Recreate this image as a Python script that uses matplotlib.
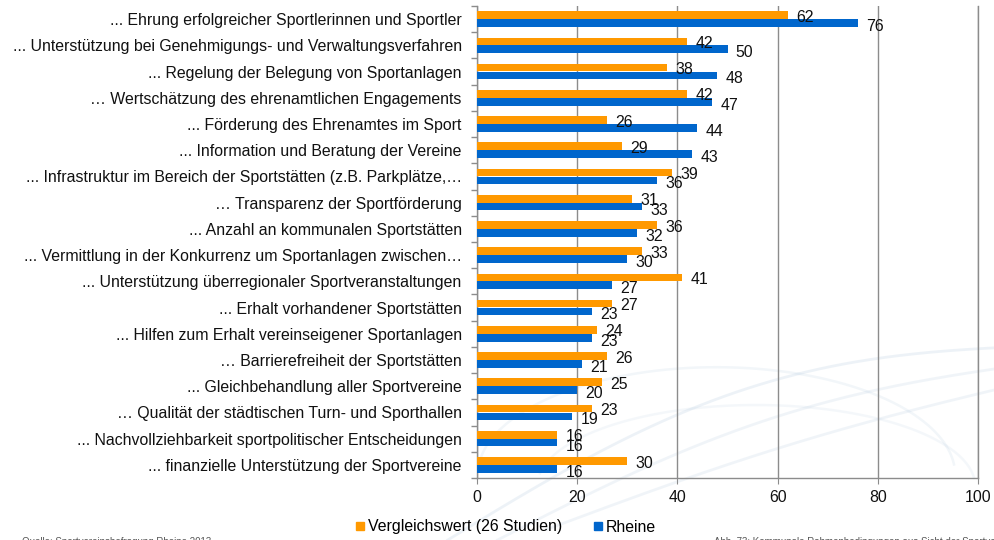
import numpy as np
import matplotlib
matplotlib.use("Agg")
import matplotlib.pyplot as plt
from matplotlib.lines import Line2D

plt.rcParams['font.family'] = ['Liberation Sans', 'DejaVu Sans']

categories = [
    "... Ehrung erfolgreicher Sportlerinnen und Sportler",
    "... Unterstützung bei Genehmigungs- und Verwaltungsverfahren",
    "... Regelung der Belegung von Sportanlagen",
    "… Wertschätzung des ehrenamtlichen Engagements",
    "... Förderung des Ehrenamtes im Sport",
    "... Information und Beratung der Vereine",
    "... Infrastruktur im Bereich der Sportstätten (z.B. Parkplätze,…",
    "… Transparenz der Sportförderung",
    "... Anzahl an kommunalen Sportstätten",
    "... Vermittlung in der Konkurrenz um Sportanlagen zwischen…",
    "... Unterstützung überregionaler Sportveranstaltungen",
    "... Erhalt vorhandener Sportstätten",
    "... Hilfen zum Erhalt vereinseigener Sportanlagen",
    "… Barrierefreiheit der Sportstätten",
    "... Gleichbehandlung aller Sportvereine",
    "… Qualität der städtischen Turn- und Sporthallen",
    "... Nachvollziehbarkeit sportpolitischer Entscheidungen",
    "... finanzielle Unterstützung der Sportvereine",
]
vergleich = [62, 42, 38, 42, 26, 29, 39, 31, 36, 33, 41, 27, 24, 26, 25, 23, 16, 30]
rheine = [76, 50, 48, 47, 44, 43, 36, 33, 32, 30, 27, 23, 23, 21, 20, 19, 16, 16]
series_names = ["Vergleichswert (26 Studien)", "Rheine"]
xticks = [0, 20, 40, 60, 80, 100]

orange = "#FF9900"
blue = "#0066CC"
grey = "#8C8C8C"
fs = 11.4

fig = plt.figure(figsize=(9.95, 5.4), dpi=100)

# faint decorative swooshes in the background (bottom right)
bg = fig.add_axes([0, 0, 1, 1], zorder=-5)
bg.set_xlim(0, 1)
bg.set_ylim(0, 1)
bg.axis("off")
t = np.linspace(0, 1, 200)
for (x0, y0, x1, y1, bend, a) in [(0.45, 0.0, 1.05, 0.36, 0.10, 0.18),
                                  (0.50, 0.0, 1.05, 0.33, 0.06, 0.15),
                                  (0.55, 0.02, 1.05, 0.30, 0.02, 0.15)]:
    xs = x0 + (x1 - x0) * t
    ys = y0 + (y1 - y0) * t + bend * np.sin(np.pi * t)
    bg.plot(xs, ys, color="#9EBBD6", lw=2.0, alpha=a)
for (cx, cy, rx, ry, a) in [(0.72, 0.12, 0.24, 0.20, 0.15), (0.76, 0.10, 0.22, 0.15, 0.12)]:
    th = np.linspace(0.1, np.pi * 0.95, 200)
    bg.plot(cx + rx * np.cos(th), cy + ry * np.sin(th), color="#A9C3DB", lw=1.8, alpha=a)

ax = fig.add_axes([477 / 995, 1 - 478 / 540, 501 / 995, 472 / 540])
ax.patch.set_alpha(0)

y = np.arange(len(categories))
h = 0.29
ax.barh(y - 0.15, vergleich, height=h, color=orange, label=series_names[0], zorder=3)
ax.barh(y + 0.15, rheine, height=h, color=blue, label=series_names[1], zorder=3)

for yi, v in zip(y - 0.15, vergleich):
    ax.annotate(str(v), (v, yi), xytext=(6, -1.5), textcoords="offset points",
                va="center", ha="left", fontsize=fs, color="#111111", zorder=5)
for yi, v in zip(y + 0.15, rheine):
    ax.annotate(str(v), (v, yi), xytext=(6, -2.5), textcoords="offset points",
                va="center", ha="left", fontsize=fs, color="#111111", zorder=5)

ax.set_xlim(0, 100)
ax.set_ylim(len(categories) - 0.5, -0.5)
ax.set_xticks(xticks)
ax.set_yticks(y)
ax.set_yticklabels(categories, fontsize=fs, color="#111111")
ax.set_yticks(np.arange(len(categories) + 1) - 0.5, minor=True)
ax.tick_params(axis="y", which="major", length=0, pad=11)
ax.tick_params(axis="y", which="minor", length=4, color=grey, width=1)
ax.tick_params(axis="x", length=4, color=grey, labelsize=fs, labelcolor="#111111", pad=5)
ax.grid(axis="x", color=grey, lw=1, zorder=0)
ax.spines["top"].set_visible(False)
for s in ["left", "bottom", "right"]:
    ax.spines[s].set_color(grey)
    ax.spines[s].set_linewidth(1)

handles = [Line2D([], [], marker="s", ls="", color=orange, markersize=6),
           Line2D([], [], marker="s", ls="", color=blue, markersize=6)]
fig.legend(handles, series_names, loc="center", bbox_to_anchor=(506 / 995, 1 - 527 / 540),
           ncol=2, frameon=False, fontsize=fs, handlelength=0.5, handletextpad=0.25,
           columnspacing=2.0)

fig.text(22 / 995, 1 - 537 / 540, "Quelle: Sportvereinsbefragung Rheine 2013",
         fontsize=7, color="#555555", va="top", ha="left")
fig.text(714 / 995, 1 - 537 / 540, "Abb. 73: Kommunale Rahmenbedingungen aus Sicht der Sportvereine",
         fontsize=7, color="#555555", va="top", ha="left")

fig.savefig("out.png", dpi=100)
